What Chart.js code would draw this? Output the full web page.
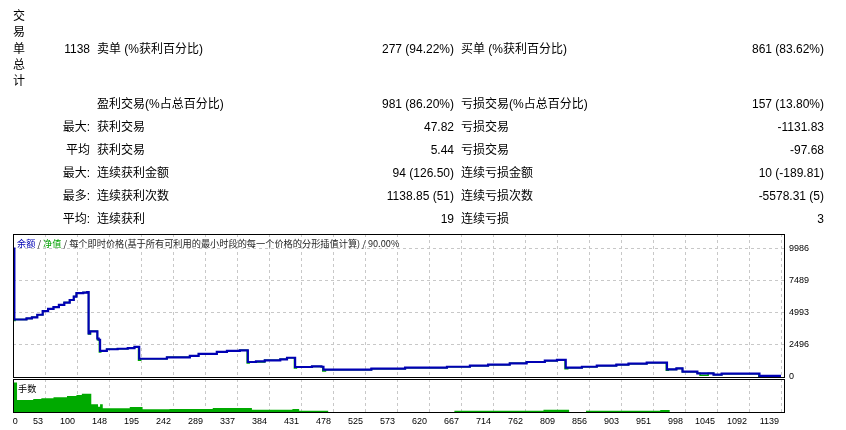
<!DOCTYPE html>
<html><head><meta charset="utf-8">
<script src="https://cdn.jsdelivr.net/npm/chart.js@4"></script>
<style>
html,body{margin:0;padding:0;background:#fff;width:846px;height:430px;overflow:hidden;position:relative;}
.t{position:absolute;font-family:"Liberation Sans","Noto Sans CJK SC",sans-serif;font-size:12px;line-height:16px;color:#000;white-space:nowrap;}
.s{position:absolute;font-family:"Noto Sans CJK SC",sans-serif;font-size:9.2px;line-height:10px;color:#222;white-space:nowrap;}
canvas{position:absolute;left:0;top:0;}
</style></head><body>
<canvas id="main" width="846" height="430"></canvas>
<canvas id="lots" width="846" height="430"></canvas>
<div id="overlay"></div>
<script>
// ---- data ----
const summaryColA = ['1138', '', '最大:', '平均', '最大:', '最多:', '平均:'];
const summaryColB = ['卖单 (%获利百分比)', '盈利交易(%占总百分比)', '获利交易', '获利交易', '连续获利金额', '连续获利次数', '连续获利'];
const summaryColC = ['277 (94.22%)', '981 (86.20%)', '47.82', '5.44', '94 (126.50)', '1138.85 (51)', '19'];
const summaryColD = ['买单 (%获利百分比)', '亏损交易(%占总百分比)', '亏损交易', '亏损交易', '连续亏损金额', '连续亏损次数', '连续亏损'];
const summaryColE = ['861 (83.62%)', '157 (13.80%)', '-1131.83', '-97.68', '10 (-189.81)', '-5578.31 (5)', '3'];
const sideTitle = ['交', '易', '单', '总', '计'];

const xTickLabels = ['0','53','100','148','195','242','289','337','384','431','478','525','573','620','667','714','762','809','856','903','951','998','1045','1092','1139'];
const yTickValues = [0, 2496, 4993, 7489, 9986];

const balanceTrades = [0,2,20,28,36,44,52,60,68,76,84,90,94,104,110,112,114,125,127,129,139,155,170,180,187,228,262,275,302,317,336,348,360,373,396,406,418,443,457,460,531,581,643,677,704,736,761,788,806,819,843,865,894,912,939,969,983,992,1014,1038,1050,1106,1138];
const balanceValues = [10000,4480,4560,4650,4850,5130,5300,5440,5620,5800,6000,6265,6530,6580,6620,3400,3560,3000,2900,2030,2160,2200,2250,2340,1420,1535,1640,1795,1950,2030,2080,1170,1220,1300,1380,1500,780,820,800,570,650,725,800,880,960,1065,1170,1270,1330,725,800,880,960,1040,1115,590,670,415,285,180,260,80,80];

const equityTrades = [0,1,3,20,28,36,44,52,60,68,76,84,90,94,104,110,112,115,125,128,130,139,155,170,180,186,189,228,262,275,302,317,336,347,350,373,396,406,417,420,443,457,459,463,531,581,643,677,704,736,761,788,806,818,822,843,865,894,912,939,968,971,983,992,1014,1018,1030,1038,1050,1105,1109,1138];
const equityValues = [10000,4400,4480,4560,4650,4850,5130,5300,5440,5620,5800,6000,6265,6530,6580,6620,3350,3560,2900,1950,2030,2160,2200,2250,2340,1300,1420,1535,1640,1795,1950,2030,2080,1100,1170,1300,1380,1500,700,780,820,800,470,570,650,725,800,880,960,1065,1170,1270,1330,650,725,800,880,960,1040,1115,530,590,670,415,285,130,285,180,260,40,80,80];

const lotTrades = [0,6,30,42,60,80,94,102,116,126,129,133,173,192,232,296,354,414,424,460,467,654,786,824,849,959,973,1138];
const lotValues = [1.0,0.41,0.44,0.47,0.50,0.54,0.58,0.62,0.26,0.18,0.26,0.13,0.17,0.09,0.10,0.14,0.08,0.10,0.045,0.04,0,0.04,0.08,0,0.04,0.07,0,0];

// ---- layout ----
const rowCenters = [48.5, 104, 127, 150, 173, 196, 219];
const overlay = document.getElementById('overlay');
function addText(cls, txt, css) {
  const d = document.createElement('div');
  d.className = cls; d.textContent = txt;
  Object.assign(d.style, css);
  overlay.appendChild(d);
  return d;
}
rowCenters.forEach((c, i) => {
  const top = (c - 8) + 'px';
  addText('t', summaryColA[i], {top, right: (846 - 90) + 'px', textAlign: 'right'});
  addText('t', summaryColB[i], {top, left: '97px'});
  addText('t', summaryColC[i], {top, right: (846 - 454) + 'px', textAlign: 'right'});
  addText('t', summaryColD[i], {top, left: '461px'});
  addText('t', summaryColE[i], {top, right: (846 - 824) + 'px', textAlign: 'right'});
});
sideTitle.forEach((ch, i) => {
  addText('t', ch, {top: (16 + i * 16.3 - 8) + 'px', left: '13px'});
});
const lg = document.createElement('div');
lg.className = 's';
lg.style.left = '17px'; lg.style.top = '238px';
lg.innerHTML = '<span style="color:#0000b4">余额</span> / <span style="color:#00a000">净值</span> / 每个即时价格(基于所有可利用的最小时段的每一个价格的分形插值计算) / 90.00%';
overlay.appendChild(lg);
addText('s', '手数', {left: '18px', top: '383px', color: '#000'});

const X_MAX = 1142.4;
const GRID_STEP = 1138 / 24;
const gridPositions = xTickLabels.map((_, i) => i * GRID_STEP).slice(1);
const labelPositions = xTickLabels.map((_, i) => i === 0 ? 10 : i * GRID_STEP);

const framePlugin = {
  id: 'frame',
  afterDraw(chart) {
    const {ctx, chartArea: a} = chart;
    ctx.save();
    ctx.strokeStyle = '#000';
    ctx.lineWidth = 1;
    ctx.strokeRect(Math.round(a.left) + 0.5, Math.round(a.top) + 0.5, Math.round(a.right - a.left), Math.round(a.bottom - a.top));
    ctx.restore();
  }
};

const tickFont = {family: 'Liberation Sans', size: 9};

new Chart(document.getElementById('main'), {
  type: 'line',
  data: {
    datasets: [
      {label: '余额', data: balanceTrades.map((t, i) => ({x: t, y: balanceValues[i]})),
       borderColor: '#0000b4', borderWidth: 2.2, stepped: 'before', pointRadius: 0, fill: false},
      {label: '净值', data: equityTrades.map((t, i) => ({x: t, y: equityValues[i]})),
       borderColor: '#00a800', borderWidth: 1.5, stepped: 'before', pointRadius: 0, fill: false}
    ]
  },
  options: {
    responsive: false, animation: false, events: [],
    layout: {padding: {left: 13, top: 234, right: 0, bottom: 53}},
    plugins: {legend: {display: false}, tooltip: {enabled: false}},
    scales: {
      x: {type: 'linear', min: 0, max: X_MAX,
          afterBuildTicks: s => { s.ticks = gridPositions.map(v => ({value: v})); },
          ticks: {display: false},
          grid: {color: '#c8c8c8', drawTicks: false},
          border: {display: false, dash: [3, 3]},
          afterFit: s => { s.height = 0; }},
      y: {position: 'right', min: 0, max: 11140,
          afterBuildTicks: s => { s.ticks = yTickValues.map(v => ({value: v})); },
          ticks: {color: '#000', font: tickFont, padding: 5, callback: v => String(v)},
          grid: {color: '#c8c8c8', drawTicks: false},
          border: {display: false, dash: [3, 3]},
          afterFit: s => { s.width = 62; }}
    }
  },
  plugins: [framePlugin]
});

new Chart(document.getElementById('lots'), {
  type: 'line',
  data: {
    datasets: [
      {label: '手数', data: lotTrades.map((t, i) => ({x: t, y: lotValues[i]})),
       stepped: 'before', borderWidth: 0, borderColor: 'rgba(0,0,0,0)', pointRadius: 0,
       fill: 'origin', backgroundColor: '#00aa00'}
    ]
  },
  options: {
    responsive: false, animation: false, events: [],
    layout: {padding: {left: 13, top: 379, right: 62, bottom: 0}},
    plugins: {legend: {display: false}, tooltip: {enabled: false}},
    scales: {
      x: {type: 'linear', min: 0, max: X_MAX,
          afterBuildTicks: s => { s.ticks = labelPositions.map(v => ({value: v})); },
          ticks: {autoSkip: false, maxRotation: 0, minRotation: 0, align: 'end', labelOffset: -2, padding: 4,
                  color: '#000', font: tickFont, callback: (v, i) => xTickLabels[i]},
          grid: {color: c => c.index === 0 ? 'rgba(0,0,0,0)' : '#c8c8c8', drawTicks: false},
          border: {display: false, dash: [3, 3]},
          afterFit: s => { s.height = 18; }},
      y: {display: false, min: 0, max: 1.12}
    }
  },
  plugins: [framePlugin]
});
</script>
</body></html>
